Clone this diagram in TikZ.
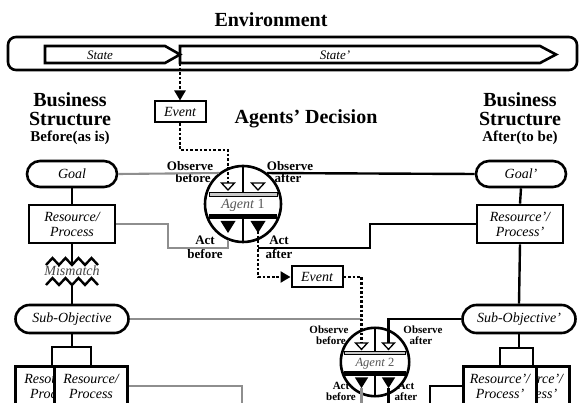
\documentclass[tikz,border=0pt]{standalone}
\usepackage{fontspec}
\setmainfont{Liberation Serif}
\usetikzlibrary{arrows.meta,calc}

\definecolor{linegray}{HTML}{8E8E8E}
\definecolor{barfill}{HTML}{C8C8C8}
\definecolor{agentgray}{HTML}{555555}
\definecolor{mmgray}{HTML}{444444}

% Agent symbol: circle split by a vertical line, observe triangles over a grey bar,
% act triangles under a black bar.  #1 name, #2 centre, #3 scale, #4 font, #5 number
\newcommand\agentbody[5]{%
  \node[agentcircle, minimum size=#3*76pt] (#1) at #2 {};
  \begin{scope}[shift={#2}, scale=#3]
    \draw[conn] (0,-38) -- (0,-12);
    \draw[conn] (0,15) -- (0,38);
    \draw[line width=0.8pt, fill=barfill] (-34,-12) rectangle (34,-8);
    \fill (-34,10) rectangle (34,15.5);
    \draw[line width=1.3pt, fill=white] (-21.5,-21) -- (-8.5,-21) -- (-15,-14) -- cycle;
    \draw[line width=1.3pt, fill=white] (8.5,-21) -- (21.5,-21) -- (15,-14) -- cycle;
    \fill (-22.5,17) -- (-7.5,17) -- (-15,29) -- cycle;
    \fill (7.5,17) -- (22.5,17) -- (15,29) -- cycle;
    \node[font=#4, text=agentgray] (#1lbl) at (0,1.5) {\itshape Agent\/ \upshape #5};
    \coordinate (#1ob) at (-15,-21);
    \coordinate (#1oa) at (15,-21);
    \coordinate (#1ab) at (-15,29);
    \coordinate (#1aa) at (15,29);
  \end{scope}}

\begin{document}
\begin{tikzpicture}[x=1pt,y=-1pt,
  every node/.style={inner sep=0pt},
  title/.style={font=\fontsize{20}{22}\selectfont\bfseries, anchor=base},
  subtitle/.style={font=\fontsize{15}{16}\selectfont\bfseries, anchor=base},
  frame/.style={line width=2.6pt},
  itext/.style={font=\fontsize{13}{14}\selectfont\itshape},
  box/.style={draw, line width=2.6pt, fill=white, align=center,
              font=\fontsize{14}{15}\selectfont\itshape},
  rpbox/.style={box, minimum width=86pt, minimum height=38pt},
  rplow/.style={box, minimum width=73pt, minimum height=40pt, anchor=north},
  goalbox/.style={box, rounded corners=13pt, minimum width=90pt, minimum height=26pt},
  subbox/.style={box, rounded corners=14pt, minimum width=113pt, minimum height=28pt},
  evt/.style={box, line width=2pt, minimum width=51pt, minimum height=21pt},
  agentcircle/.style={circle, draw, line width=2.6pt, fill=white},
  conn/.style={line width=2.4pt},
  grayconn/.style={line width=2.1pt, draw=linegray},
  dots/.style={line width=2.7pt, dash pattern=on 2.7pt off 1.9pt},
  head/.style={-{Triangle[length=10pt,width=11pt]}},
  lbl/.style={font=\fontsize{13}{14}\selectfont\bfseries, anchor=base},
  lbls/.style={font=\fontsize{11}{12}\selectfont\bfseries, anchor=base}]

\useasboundingbox (0,0) rectangle (579,403);
\clip (0,0) rectangle (579,403);

% headings
\node[title] (envt) at (271,27) {Environment};
\node[title] (dect) at (306,124) {Agents’ Decision};
\node[title] (bl1) at (70,107) {Business};
\node[title] (bl2) at (70,126) {Structure};
\node[subtitle] (bl3) at (70,142) {Before(as is)};
\node[title] (br1) at (520,107) {Business};
\node[title] (br2) at (520,126) {Structure};
\node[subtitle] (br3) at (520,142) {After(to be)};

% environment band with the two states
\draw[frame, rounded corners=8pt] (8,37) rectangle (577,70);
\draw[frame] (45,46) -- (165,46) -- (180,54.5) -- (165,63) -- (45,63) -- cycle;
\draw[frame] (180,46) -- (540,46) -- (556,54.5) -- (540,63) -- (180,63) -- cycle;
\node[itext] (st1) at (100,55) {State};
\node[itext] (st2) at (335,55) {State’};
\coordinate (split) at (180,63);

% events
\node[evt] (ev1) at (180,112) {Event};
\node[evt] (ev2) at (317,277) {Event};

% business structure before
\node[goalbox] (goal1) at (72,174) {Goal};
\node[rpbox] (rp1) at (72,224) {Resource/\\Process};
\node[subbox] (so1) at (72,319) {Sub-Objective};
\node[rplow] (rpb1) at (52,365) {Resource/\\Process};
\node[rplow] (rpf1) at (91,365) {Resource/\\Process};

% business structure after
\node[goalbox] (goal2) at (521,174) {Goal’};
\node[rpbox] (rp2) at (520,224) {Resource’/\\Process’};
\node[subbox] (so2) at (519,319) {Sub-Objective’};
\node[rplow] (rpb2) at (533,365) {Resource’/\\Process’};
\node[rplow] (rpf2) at (500,365) {Resource’/\\Process’};

% mismatch between resource and sub-objective
\node[font=\fontsize{14}{15}\selectfont\itshape, text=mmgray] (mm) at (72,271) {Mismatch};
\draw[conn] (46,265) -- (52.5,258) -- (59,265) -- (65.5,258) -- (72,265)
  -- (78.5,258) -- (85,265) -- (91.5,258) -- (98,265);
\draw[conn] (46,285) -- (52.5,278) -- (59,285) -- (65.5,278) -- (72,285)
  -- (78.5,278) -- (85,285) -- (91.5,278) -- (98,285);
\coordinate (mmtop) at (72,263);
\coordinate (mmbot) at (72,284);

% labels round the agents
\node[lbl] (l1) at (190,171) {Observe};
\node[lbl] (l2) at (193,183) {before};
\node[lbl] (l3) at (290,171) {Observe};
\node[lbl] (l4) at (288,183) {after};
\node[lbl] (l5) at (205,245) {Act};
\node[lbl] (l6) at (205,259) {before};
\node[lbl] (l7) at (279,245) {Act};
\node[lbl] (l8) at (279,259) {after};
\node[lbls] (m1) at (329,334) {Observe};
\node[lbls] (m2) at (331,345) {before};
\node[lbls] (m3) at (423,334) {Observe};
\node[lbls] (m4) at (421,345) {after};
\node[lbls] (m5) at (341,390) {Act};
\node[lbls] (m6) at (341,401) {before};
\node[lbls] (m7) at (406,390) {Act};
\node[lbls] (m8) at (406,401) {after};

% agents
\agentbody{a1}{(243,204)}{1}{\fontsize{14}{15}\selectfont}{1}
\agentbody{a2}{(375,362)}{0.9}{\fontsize{12.5}{14}\selectfont}{2}

% structure links
\draw[conn] (goal1.south) -- (rp1.north);
\draw[conn] (rp1.south) -- (mmtop);
\draw[conn] (mmbot) -- (so1.north);
\coordinate (brk1) at (72,347);
\draw[conn] (so1.south) -- (brk1);
\draw[conn] (rpb1.north) |- (brk1) -| (rpf1.north);
\draw[conn] (goal2.south) -- (rp2.north);
\draw[conn] (rp2.south) -- (so2.north);
\coordinate (brk2) at (519,348);
\draw[conn] (so2.south) -- (brk2);
\draw[conn] (rpf2.north) |- (brk2) -| (rpb2.north);

% agent 1 links
\coordinate (g1) at (168,248);
\coordinate (b1) at (370,248);
\draw[grayconn] (goal1.east) -- (a1.128);
\draw[grayconn] (rp1.east) -| (g1) -| (a1.-113);
\draw[conn] (a1.52) -- (goal2.west);
\draw[conn] (rp2.west) -| (b1) -- (b1 -| a1aa);

% agent 2 links
\coordinate (bot) at (0,410);
\coordinate (gdrop) at (242,410);
\coordinate (bdrop) at (430,410);
\draw[grayconn] (so1.east) -- (so1.east -| a2ob);
\draw[conn] (so2.west) -| (a2oa);
\draw[grayconn] (a2ab) -- (a2ab |- bot);
\draw[conn] (a2aa) -- (a2aa |- bot);
\draw[grayconn] (rpf1.east) -| (gdrop);
\draw[conn] (rpf2.west) -| (bdrop);

% event flow
\coordinate (k1) at (180,150);
\draw[dots, head] (split) -- (ev1.north);
\draw[dots] (ev1.south) -- (k1) -| (a1ob);
\draw[dots, head] ([yshift=2pt]a1aa) |- (ev2.west);
\draw[dots] (ev2.east) -| (a2ob);
\end{tikzpicture}
\end{document}
